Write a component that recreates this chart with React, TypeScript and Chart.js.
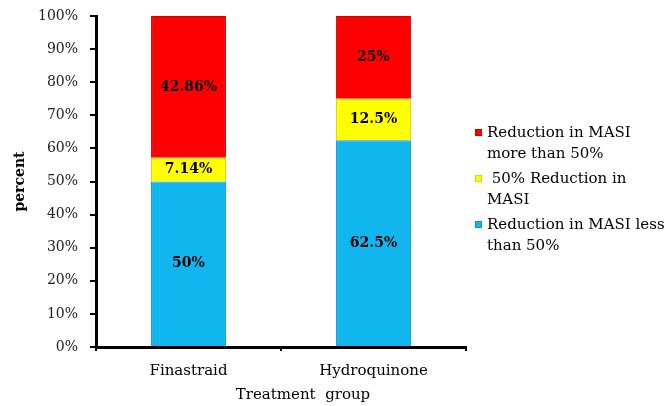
import React, { useEffect, useRef } from "react";
import { Chart, registerables } from "chart.js";

Chart.register(...registerables);

const categories = ["Finastraid", "Hydroquinone"];
const lessThan50 = [50, 62.5];
const exactly50 = [7.14, 12.5];
const moreThan50 = [42.86, 25];
const valueLabels = [
  ["50%", "62.5%"],
  ["7.14%", "12.5%"],
  ["42.86%", "25%"],
];
const seriesNames = [
  ["Reduction in MASI less", "than 50%"],
  [" 50% Reduction in", "MASI"],
  ["Reduction in MASI", "more than 50%"],
];
const seriesColors = ["#12B6EE", "#FFFF00", "#FF0000"];
const seriesBorders = ["#0A9AD0", "#D8D800", "#D00000"];
const yTicks = [0, 10, 20, 30, 40, 50, 60, 70, 80, 90, 100];
const xTitle = "Treatment  group";
const yTitle = "percent";

const FONT = "'DejaVu Serif', 'Liberation Serif', serif";

const labelPlugin = {
  id: "valueLabels",
  afterDatasetsDraw(chart: any) {
    const ctx = chart.ctx;
    ctx.save();
    ctx.font = `bold 14px ${FONT}`;
    ctx.fillStyle = "#000";
    ctx.textAlign = "center";
    ctx.textBaseline = "middle";
    chart.data.datasets.forEach((ds: any, di: number) => {
      const meta = chart.getDatasetMeta(di);
      meta.data.forEach((bar: any, i: number) => {
        const y = (bar.y + bar.base) / 2;
        ctx.fillText(valueLabels[di][i], bar.x, y);
      });
    });
    ctx.restore();
  },
};

const legendPlugin = {
  id: "customLegend",
  afterDraw(chart: any) {
    const ctx = chart.ctx;
    ctx.save();
    ctx.font = `15px ${FONT}`;
    ctx.textBaseline = "middle";
    ctx.textAlign = "left";
    const startYs = [133, 179, 225];
    const order = [2, 1, 0];
    order.forEach((di, k) => {
      const y0 = startYs[k];
      ctx.fillStyle = seriesColors[di];
      ctx.fillRect(475, y0 - 4, 7, 7);
      ctx.strokeStyle = seriesBorders[di];
      ctx.lineWidth = 1;
      ctx.strokeRect(475.5, y0 - 3.5, 6, 6);
      ctx.fillStyle = "#000";
      seriesNames[di].forEach((line, li) => {
        ctx.fillText(line, 487, y0 + li * 21);
      });
    });
    // x-axis title
    ctx.font = `15px ${FONT}`;
    ctx.textAlign = "center";
    ctx.fillText(xTitle, (chart.chartArea.left + chart.chartArea.right) / 2 + 22, 395);
    ctx.restore();
  },
};

export default function App() {
  const ref = useRef<HTMLCanvasElement>(null);
  useEffect(() => {
    if (!ref.current) return;
    const chart = new Chart(ref.current, {
      type: "bar",
      data: {
        labels: categories,
        datasets: [
          { label: seriesNames[0].join(" "), data: lessThan50, backgroundColor: seriesColors[0], borderColor: seriesBorders[0], borderWidth: 1 },
          { label: seriesNames[1].join(" "), data: exactly50, backgroundColor: seriesColors[1], borderColor: seriesBorders[1], borderWidth: 1 },
          { label: seriesNames[2].join(" "), data: moreThan50, backgroundColor: seriesColors[2], borderColor: seriesBorders[2], borderWidth: 1 },
        ],
      },
      options: {
        animation: false,
        responsive: false,
        maintainAspectRatio: false,
        layout: { padding: { top: 16, right: 202, left: 0, bottom: 0 } },
        datasets: { bar: { categoryPercentage: 1, barPercentage: 0.405 } },
        plugins: { legend: { display: false }, tooltip: { enabled: false } },
        scales: {
          x: {
            stacked: true,
            afterFit(scale: any) { scale.height = 59; scale.paddingLeft = 0; scale.paddingRight = 0; },
            grid: { display: true, drawOnChartArea: false, drawTicks: true, tickLength: 4, color: "#000", lineWidth: 2, offset: true },
            border: { display: true, color: "#000", width: 3 },
            ticks: { color: "#000", font: { family: FONT, size: 15 }, padding: 11 },
          },
          y: {
            stacked: true,
            min: 0,
            max: 100,
            afterFit(scale: any) { scale.width = 96; scale.paddingTop = 0; scale.paddingBottom = 0; },
            afterBuildTicks(scale: any) { scale.ticks = yTicks.map((v) => ({ value: v })); },
            grid: { display: true, drawOnChartArea: false, drawTicks: true, tickLength: 6, color: "#000", lineWidth: 2 },
            border: { display: true, color: "#000", width: 3 },
            ticks: { color: "#222", font: { family: FONT, size: 14 }, padding: 12, callback: (v: any) => v + "%" },
            title: { display: true, text: yTitle, color: "#000", font: { family: FONT, size: 14, weight: "bold" }, padding: { top: 12, bottom: 0 } },
          },
        },
      },
      plugins: [labelPlugin, legendPlugin],
    });
    return () => chart.destroy();
  }, []);
  return (
    <div style={{ position: "absolute", left: 0, top: 0, width: 668, height: 406, background: "#fff" }}>
      <canvas ref={ref} width={668} height={406} style={{ width: 668, height: 406 }} />
    </div>
  );
}
